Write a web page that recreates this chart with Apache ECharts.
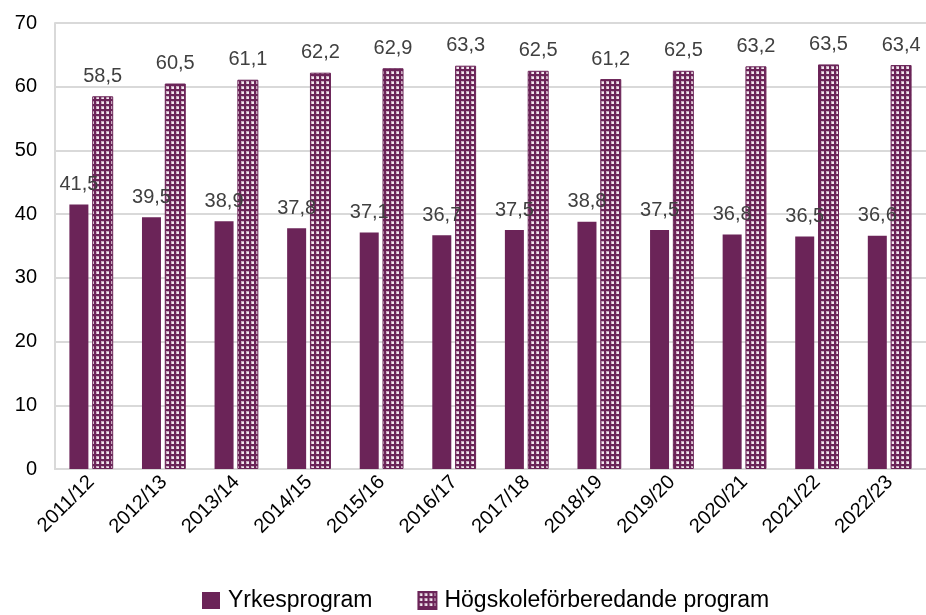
<!DOCTYPE html>
<html>
<head>
<meta charset="utf-8">
<script src="https://cdn.jsdelivr.net/npm/echarts@6/dist/echarts.min.js"></script>
<style>html,body{margin:0;padding:0;background:#fff}#c{width:926px;height:615px}</style>
</head>
<body>
<div id="c"></div>
<script>
var categories = ['2011/12','2012/13','2013/14','2014/15','2015/16','2016/17','2017/18','2018/19','2019/20','2020/21','2021/22','2022/23'];
var yrkes = [41.5,39.5,38.9,37.8,37.1,36.7,37.5,38.8,37.5,36.8,36.5,36.6];
var hogskole = [58.5,60.5,61.1,62.2,62.9,63.3,62.5,61.2,62.5,63.2,63.5,63.4];
var seriesNames = ['Yrkesprogram','Högskoleförberedande program'];

var purple = '#6B2458';
var tile = document.createElement('canvas');
tile.width = 5; tile.height = 5;
var tc = tile.getContext('2d');
tc.fillStyle = purple; tc.fillRect(0,0,5,5);
tc.fillStyle = '#c8a9bf'; tc.fillRect(1,1,3,3);
tc.fillStyle = '#f2e8ef'; tc.fillRect(2,2,2,2);

var font = 'Liberation Sans, Arial, sans-serif';
function fmt(p){ return String(p.value).replace('.', ','); }

var chart = echarts.init(document.getElementById('c'));
chart.setOption({
  animation: false,
  grid: {left: 55, right: 0, top: 23, bottom: 146},
  legend: {
    top: 584, left: 197,
    icon: 'rect',
    itemWidth: 18, itemHeight: 17, itemGap: 45,
    textStyle: {fontFamily: font, fontSize: 23, color: '#000', padding: [0, 0, 0, 3]},
    data: seriesNames
  },
  xAxis: {
    type: 'category', data: categories,
    axisLine: {lineStyle: {color: '#d9d9d9', width: 2}},
    axisTick: {show: false},
    axisLabel: {rotate: 45, fontFamily: font, fontSize: 20, color: '#000', margin: 10, interval: 0}
  },
  yAxis: {
    type: 'value', min: 0, max: 70, interval: 10,
    axisLine: {show: true, lineStyle: {color: '#d9d9d9', width: 2}},
    axisTick: {show: false},
    splitLine: {lineStyle: {color: '#d9d9d9', width: 2}},
    axisLabel: {fontFamily: font, fontSize: 20, color: '#000', margin: 18}
  },
  series: [
    {
      name: seriesNames[0], type: 'bar', data: yrkes,
      barWidth: 19, barGap: '20%',
      itemStyle: {color: purple},
      label: {show: true, position: 'top', distance: 10, formatter: fmt, fontFamily: font, fontSize: 20, color: '#404040'}
    },
    {
      name: seriesNames[1], type: 'bar', data: hogskole,
      barWidth: 21,
      itemStyle: {color: {image: tile, repetition: 'repeat'}, borderColor: purple, borderWidth: 1},
      label: {show: true, position: 'top', distance: 10, formatter: fmt, fontFamily: font, fontSize: 20, color: '#404040'}
    }
  ]
});
</script>
</body>
</html>
